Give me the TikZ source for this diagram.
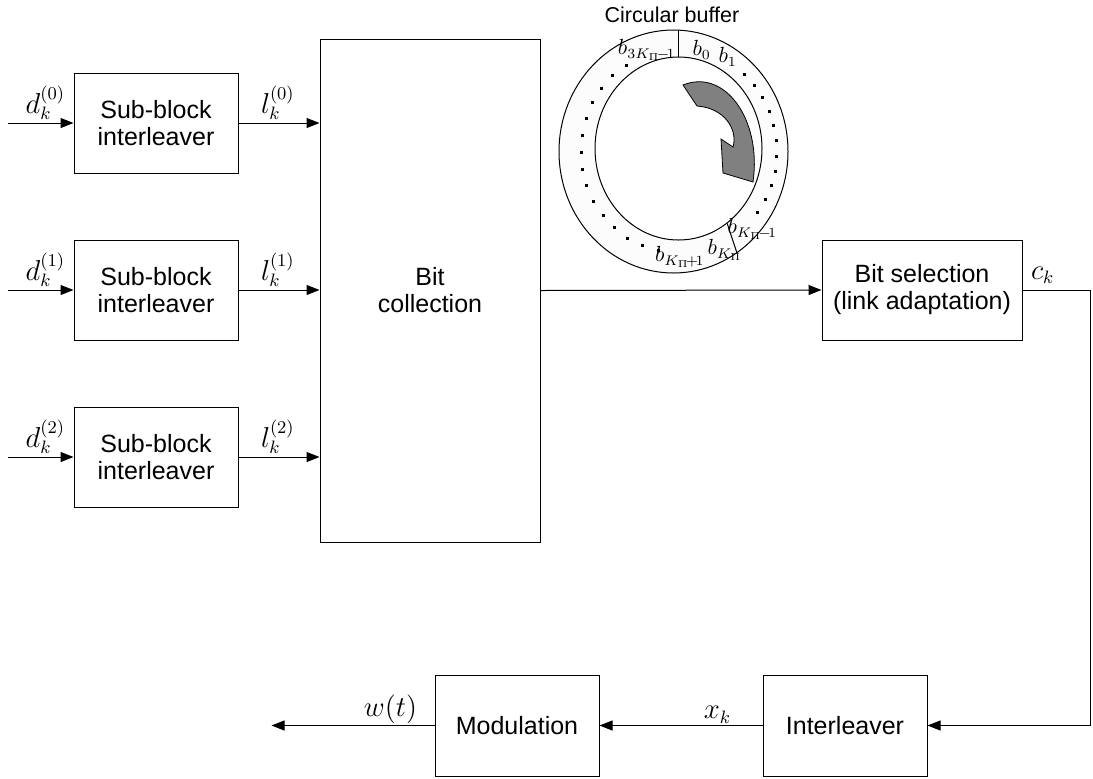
\documentclass[tikz,border=0pt]{standalone}
\usepackage{fontspec}
\setmainfont{Liberation Sans}
\usetikzlibrary{arrows.meta,shapes.geometric}

\begin{document}
\begin{tikzpicture}[x=0.5pt,y=-0.5pt,line width=0.5pt,
box/.style={draw,align=center,font=\fontsize{12.5}{13.5}\selectfont,inner sep=0pt,minimum width=82pt,minimum height=50pt},
arr/.style={-{Triangle[length=6.5pt,width=5pt]}},
lbl/.style={font=\fontsize{13.5}{15}\selectfont,inner sep=0pt},
bl/.style={font=\fontsize{10.5}{12}\selectfont,inner sep=0pt}]
\useasboundingbox (0,0) rectangle (1093,778);
\node[box] (sb0) at (156,123) {Sub-block\\interleaver};
\node[box] (sb1) at (156,290) {Sub-block\\interleaver};
\node[box] (sb2) at (156,457) {Sub-block\\interleaver};
\node[box,minimum width=110pt,minimum height=251.5pt] (coll) at (430,290.5) {Bit\\collection};
\node[box,minimum width=100pt] (sel) at (922,290) {Bit selection\\(link adaptation)};
\node[box,minimum height=50.5pt] (intl) at (845,725.5) {Interleaver};
\node[box,minimum height=50.5pt] (mod) at (517,725.5) {Modulation};
\foreach \i in {0,1,2} {
  \coordinate (in\i) at ([xshift=-33pt]sb\i.west);
  \draw[arr] (in\i) -- (sb\i.west);
  \draw[arr] (sb\i.east) -- (sb\i.east -| coll.west);
  \node[lbl,anchor=south east] (d\i) at ([shift={(-8,-3)}]sb\i.west) {$d_k^{(\i)}$};
  \node[lbl,anchor=south west] (l\i) at ([shift={(22,-3)}]sb\i.east) {$l_k^{(\i)}$};
}
\draw[arr] (coll.east) -- (sel.west);
\coordinate (turn) at ([xshift=34pt]sel.east);
\draw[arr] (sel.east) -- (turn) |- (intl.east);
\draw[arr] (intl.west) -- (mod.east);
\coordinate (out) at ([xshift=-81.5pt]mod.west);
\draw[arr] (mod.west) -- (out);
\node[lbl,anchor=south west] (ck) at ([shift={(8,-6)}]sel.east) {$c_k$};
\node[lbl,anchor=south east] (xk) at ([shift={(-31,-2)}]intl.west) {$x_k$};
\node[lbl,anchor=south east] (wt) at ([shift={(-17,-1)}]mod.west) {$w(t)$};
\node[font=\fontsize{10.75}{12}\selectfont] (title) at (672,15) {Circular buffer};
\node[ellipse,draw,fill=gray!2,minimum width=114.5pt,minimum height=121.5pt,inner sep=0pt] (ring) at (673.5,151.5) {};
\node[ellipse,draw,fill=white,minimum width=83.5pt,minimum height=91.5pt,inner sep=0pt] (hole) at (678.5,148.5) {};
\draw (hole.north) -- (hole.north |- ring.north);
\draw (hole.-57) -- (ring.-58);
\filldraw[fill=gray,line width=0.4pt] (683,85) .. controls (725,68) and (762,120) .. (753,182) -- (723,173) -- (721,139) -- (733,147) .. controls (738,130) and (725,108) .. (697,106) -- cycle;
\foreach \a in {0,...,14}
  \fill ({679+98*cos(122.7+9.66*\a)-1.5},{151-102*sin(122.7+9.66*\a)-1.5}) rectangle ++(3,3);
\foreach \a in {0,...,10}
  \fill ({679+98*cos(48.4-8.54*\a)-1.5},{151-102*sin(48.4-8.54*\a)-1.5}) rectangle ++(3,3);
\node[bl,anchor=east] (blast) at (676,50) {$b_{3K_\Pi\!-\!1}$};
\node[bl,anchor=west] (bzero) at (692,50) {$b_0$};
\node[bl,anchor=west] (bone) at (718,57) {$b_1$};
\node[bl,anchor=west] (bkm) at (727,229) {$b_{K_\Pi\!-\!1}$};
\node[bl,anchor=west] (bk) at (707,250) {$b_{K_\Pi}$};
\node[bl,anchor=east] (bkp) at (705,257) {$b_{K_\Pi\!+\!1}$};
\end{tikzpicture}
\end{document}
